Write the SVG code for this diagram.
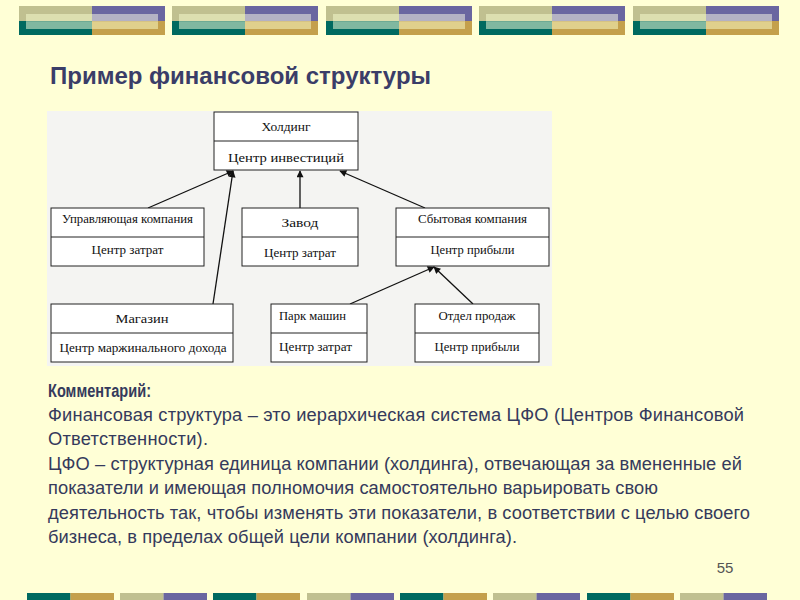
<svg xmlns="http://www.w3.org/2000/svg" xmlns:xlink="http://www.w3.org/1999/xlink" width="800" height="600" viewBox="0 0 800 600">
<style>
.box{fill:#ffffff;stroke:#222;stroke-width:1}
.div{stroke:#222;stroke-width:1}
.bt{font-family:"Liberation Serif","DejaVu Serif",serif;fill:#111;text-anchor:middle}
.big{font-size:13.5px}
.sm{font-size:12.5px}
.conn{stroke:#111;stroke-width:1.3;fill:none;marker-end:url(#ah)}
.title{font-family:"Liberation Sans",Arial,sans-serif;font-weight:bold;font-size:24px;fill:#3a3d68}
.body{font-family:"Liberation Sans",Arial,sans-serif;font-size:18.3px;fill:#353a5c}
</style>
<defs>
<marker id="ah" viewBox="0 0 10 10" refX="9" refY="5" markerWidth="8" markerHeight="7" markerUnits="userSpaceOnUse" orient="auto">
<path d="M0,0 L10,5 L0,10 z" fill="#111"/>
</marker>
<g id="deco">
<rect x="0" y="6" width="73" height="15" fill="#c0c090"/>
<rect x="73" y="6" width="73" height="15" fill="#6a66a0"/>
<rect x="0" y="21" width="73" height="14" fill="#006a60"/>
<rect x="73" y="21" width="73" height="14" fill="#c4a04c"/>
<rect x="7" y="14" width="66" height="7.3" fill="#dcdfb0"/>
<rect x="73" y="14" width="66" height="7.3" fill="#b4b2c4"/>
<rect x="7" y="21.3" width="66" height="7.7" fill="#80b8a0"/>
<rect x="73" y="21.3" width="66" height="7.7" fill="#e0d08c"/>
</g>
<g id="bA"><rect x="0" y="593" width="43.5" height="7" fill="#006a60"/><rect x="43.5" y="593" width="43.5" height="7" fill="#c4a04c"/></g>
<g id="bB"><rect x="0" y="593" width="43.5" height="7" fill="#c0c090"/><rect x="43.5" y="593" width="43.5" height="7" fill="#6a66a0"/></g>
</defs>
<rect x="0" y="0" width="800" height="600" fill="#ffffd6"/>
<g id="top-decoration">
<use xlink:href="#deco" x="19"/>
<use xlink:href="#deco" x="172"/>
<use xlink:href="#deco" x="326"/>
<use xlink:href="#deco" x="479"/>
<use xlink:href="#deco" x="633"/>
</g>
<g id="bottom-decoration">
<use xlink:href="#bA" x="27"/>
<use xlink:href="#bB" x="120"/>
<use xlink:href="#bA" x="213"/>
<use xlink:href="#bB" x="307"/>
<use xlink:href="#bA" x="400"/>
<use xlink:href="#bB" x="493"/>
<use xlink:href="#bA" x="587"/>
<use xlink:href="#bB" x="680"/>
</g>
<text class="title" x="50" y="84">Пример финансовой структуры</text>
<rect x="47" y="111" width="505" height="255" fill="#f4f4f2"/>
<g id="connectors">
<line class="conn" x1="148" y1="208" x2="233" y2="171"/>
<line class="conn" x1="213" y1="304" x2="233" y2="171"/>
<line class="conn" x1="300" y1="208" x2="300" y2="171"/>
<line class="conn" x1="425" y1="208" x2="340" y2="171"/>
<line class="conn" x1="350" y1="304" x2="434" y2="267"/>
<line class="conn" x1="473" y1="304" x2="434" y2="267"/>
</g>
<g id="holding">
<rect class="box" x="214" y="112" width="144" height="58"/>
<line class="div" x1="214" y1="141" x2="358" y2="141"/>
<text class="bt big" x="286" y="131" textLength="49" lengthAdjust="spacingAndGlyphs">Холдинг</text>
<text class="bt big" x="286" y="162" textLength="116" lengthAdjust="spacingAndGlyphs">Центр инвестиций</text>
</g>
<g id="upr">
<rect class="box" x="51" y="208" width="153" height="58"/>
<line class="div" x1="51" y1="237" x2="204" y2="237"/>
<text class="bt sm" x="127.5" y="223" textLength="131" lengthAdjust="spacingAndGlyphs">Управляющая компания</text>
<text class="bt sm" x="127.5" y="254" textLength="72" lengthAdjust="spacingAndGlyphs">Центр затрат</text>
</g>
<g id="zavod">
<rect class="box" x="242" y="208" width="116" height="58"/>
<line class="div" x1="242" y1="237" x2="358" y2="237"/>
<text class="bt big" x="300" y="227" textLength="37" lengthAdjust="spacingAndGlyphs">Завод</text>
<text class="bt sm" x="300" y="257" textLength="72" lengthAdjust="spacingAndGlyphs">Центр затрат</text>
</g>
<g id="sbyt">
<rect class="box" x="396" y="208" width="153" height="58"/>
<line class="div" x1="396" y1="237" x2="549" y2="237"/>
<text class="bt sm" x="472.5" y="223" textLength="109" lengthAdjust="spacingAndGlyphs">Сбытовая компания</text>
<text class="bt sm" x="472.5" y="254" textLength="84" lengthAdjust="spacingAndGlyphs">Центр прибыли</text>
</g>
<g id="magazin">
<rect class="box" x="51" y="304" width="182" height="58"/>
<line class="div" x1="51" y1="333" x2="233" y2="333"/>
<text class="bt big" x="142" y="323" textLength="53" lengthAdjust="spacingAndGlyphs">Магазин</text>
<text class="bt sm" x="143" y="352" textLength="167" lengthAdjust="spacingAndGlyphs">Центр маржинального дохода</text>
</g>
<g id="park">
<rect class="box" x="271" y="304" width="96" height="58"/>
<line class="div" x1="271" y1="333" x2="367" y2="333"/>
<text class="bt sm" x="279" y="320" style="text-anchor:start" textLength="67" lengthAdjust="spacingAndGlyphs">Парк машин</text>
<text class="bt sm" x="279" y="351" style="text-anchor:start" textLength="73" lengthAdjust="spacingAndGlyphs">Центр затрат</text>
</g>
<g id="otdel">
<rect class="box" x="415" y="304" width="124" height="58"/>
<line class="div" x1="415" y1="333" x2="539" y2="333"/>
<text class="bt sm" x="477" y="320" textLength="77" lengthAdjust="spacingAndGlyphs">Отдел продаж</text>
<text class="bt sm" x="477" y="351" textLength="85" lengthAdjust="spacingAndGlyphs">Центр прибыли</text>
</g>
<g id="comment">
<text class="body" x="48" y="397" style="font-weight:bold;font-size:17.5px" textLength="103" lengthAdjust="spacingAndGlyphs">Комментарий:</text>
<text class="body" x="48" y="421" textLength="696">Финансовая структура – это иерархическая система ЦФО (Центров Финансовой</text>
<text class="body" x="48" y="445" textLength="160">Ответственности).</text>
<text class="body" x="48" y="470" textLength="694">ЦФО – структурная единица компании (холдинга), отвечающая за вмененные ей</text>
<text class="body" x="48" y="494" textLength="610">показатели и имеющая полномочия самостоятельно варьировать свою</text>
<text class="body" x="48" y="519" textLength="702">деятельность так, чтобы изменять эти показатели, в соответствии с целью своего</text>
<text class="body" x="48" y="543" textLength="469">бизнеса, в пределах общей цели компании (холдинга).</text>
</g>
<text x="725" y="573" style="font-family:'Liberation Sans Narrow','Liberation Sans',sans-serif;font-size:15px;fill:#555;text-anchor:middle">55</text>
</svg>
